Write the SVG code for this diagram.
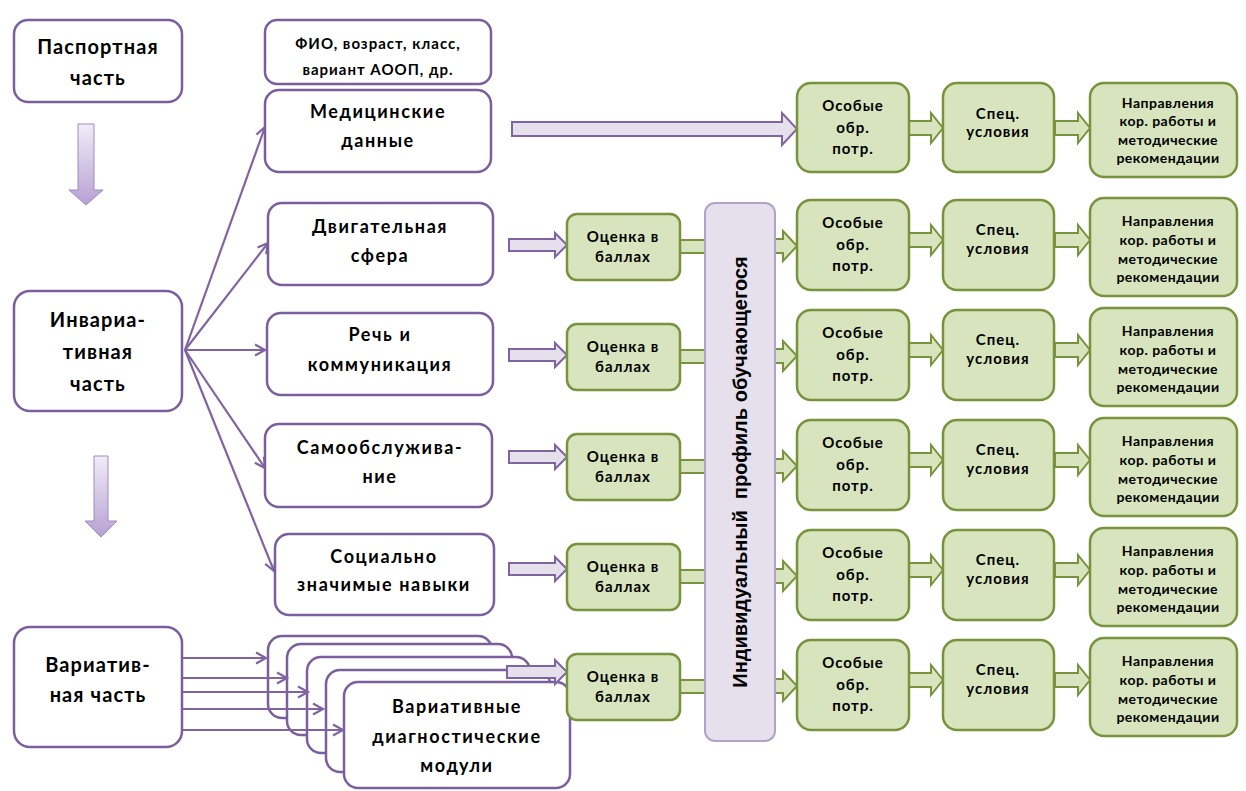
<svg xmlns="http://www.w3.org/2000/svg" width="1246" height="791" viewBox="0 0 1246 791">
<defs>
<style>
.wb{fill:#ffffff;stroke:#7a5e9e;stroke-width:2.5}
.gb{fill:#d7e4bd;stroke:#77933c;stroke-width:2.5}
.pc{fill:#e5e0ec;stroke:#b3a2c7;stroke-width:2}
.pa{fill:#e5e0ec;stroke:#8064a2;stroke-width:2}
.ga{fill:#d7e4bd;stroke:#77933c;stroke-width:2}
.da{fill:url(#dg);stroke:#a08bc0;stroke-width:1}
.ln{fill:none;stroke:#8064a2;stroke-width:2.2;marker-end:url(#ah)}
text{font-family:Lato,"Liberation Sans",sans-serif;font-weight:bold;fill:#000;text-anchor:middle}
.t20{font-size:20px;letter-spacing:1.1px}
.t18{font-size:18px;letter-spacing:1.6px}
.t15{font-size:15px;letter-spacing:1px}
.t13{font-size:14px;letter-spacing:0.5px}
.tv{font-family:"Liberation Sans",Arial,sans-serif;font-size:20px}
</style>
<linearGradient id="dg" x1="0" y1="0" x2="0" y2="1">
<stop offset="0" stop-color="#f1ecf8"/>
<stop offset="1" stop-color="#b6a1d3"/>
</linearGradient>
<marker id="ah" markerUnits="userSpaceOnUse" markerWidth="14" markerHeight="14" refX="11" refY="6" orient="auto" viewBox="0 0 14 12">
<path d="M1,0.5 L11,6 L1,11.5" fill="none" stroke="#8064a2" stroke-width="2.2"/>
</marker>
</defs>

<g id="connectors">
<path class="da" d="M78,124 H94 V190 H103 L86,205 L69,190 H78 Z"/>
<path class="da" d="M94,456 H108 V521 H117 L101,537 L85,521 H94 Z"/>
<line class="ln" x1="185" y1="350" x2="265" y2="127"/>
<line class="ln" x1="185" y1="350" x2="268" y2="243"/>
<line class="ln" x1="185" y1="350" x2="265" y2="350"/>
<line class="ln" x1="185" y1="350" x2="265" y2="468"/>
<line class="ln" x1="185" y1="350" x2="274" y2="571"/>
</g>

<g id="node-pasport"><rect class="wb" x="14" y="20" width="168" height="82" rx="14"/>
<text class="t20" x="98" y="54">Паспортная</text><text class="t20" x="98" y="85">часть</text></g>
<g id="node-invariant"><rect class="wb" x="14" y="291" width="168" height="120" rx="16"/>
<text class="t20" x="98" y="327">Инвариа-</text><text class="t20" x="98" y="359">тивная</text><text class="t20" x="98" y="391">часть</text></g>
<g id="node-variant"><rect class="wb" x="14" y="627" width="168" height="120" rx="16"/>
<text class="t20" x="98" y="672">Вариатив-</text><text class="t20" x="98" y="702">ная часть</text></g>

<g id="node-fio"><rect class="wb" x="265" y="20" width="226" height="64" rx="12"/>
<text class="t15" x="378" y="49">ФИО, возраст, класс,</text><text class="t15" x="378" y="75">вариант АООП, др.</text></g>
<g id="node-med"><rect class="wb" x="265" y="90" width="226" height="82" rx="14"/>
<text class="t18" x="378" y="118">Медицинские</text><text class="t18" x="378" y="147">данные</text></g>
<g id="node-dvig"><rect class="wb" x="268" y="203" width="225" height="82" rx="14"/>
<text class="t18" x="380" y="233">Двигательная</text><text class="t18" x="380" y="262">сфера</text></g>
<g id="node-rech"><rect class="wb" x="267" y="313" width="226" height="82" rx="14"/>
<text class="t18" x="380" y="341">Речь и</text><text class="t18" x="380" y="371">коммуникация</text></g>
<g id="node-samo"><rect class="wb" x="265" y="424" width="227" height="83" rx="14"/>
<text class="t18" x="380" y="454">Самообслужива-</text><text class="t18" x="380" y="483">ние</text></g>
<g id="node-soc"><rect class="wb" x="275" y="534" width="219" height="81" rx="14"/>
<text class="t18" x="384" y="563">Социально</text><text class="t18" x="384" y="591">значимые навыки</text></g>

<g id="node-modules">
<rect class="wb" x="268" y="636" width="224" height="82" rx="14"/>
<rect class="wb" x="287" y="644" width="225" height="91" rx="14"/>
<rect class="wb" x="307" y="657" width="223" height="96" rx="14"/>
<rect class="wb" x="326" y="670" width="224" height="102" rx="14"/>
<rect class="wb" x="344" y="682" width="226" height="106" rx="14"/>
<text class="t18" x="457" y="713">Вариативные</text><text class="t18" x="457" y="743">диагностические</text><text class="t18" x="457" y="772">модули</text>
</g>

<g id="connectors-variant">
<line class="ln" x1="183" y1="658" x2="266" y2="658"/>
<line class="ln" x1="183" y1="678" x2="287" y2="678"/>
<line class="ln" x1="183" y1="692" x2="308" y2="692"/>
<line class="ln" x1="183" y1="709" x2="323" y2="709"/>
<line class="ln" x1="183" y1="730" x2="343" y2="730"/>
</g>

<g id="connectors-blocks">
<path class="pa" d="M512,122 H782 V113 L797,129 L782,145 V136 H512 Z"/>
<path class="pa" d="M509,239 H555 V233 L567,245 L555,257 V251 H509 Z"/>
<path class="pa" d="M509,349 H555 V343 L567,355 L555,367 V361 H509 Z"/>
<path class="pa" d="M509,451 H555 V445 L567,457 L555,469 V463 H509 Z"/>
<path class="pa" d="M509,563 H555 V557 L567,569 L555,581 V575 H509 Z"/>
<path class="pa" d="M507,666 H555 V660 L567,672 L555,684 V678 H507 Z"/>
<rect class="ga" x="680" y="240" width="26" height="13"/>
<rect class="ga" x="680" y="350" width="26" height="13"/>
<rect class="ga" x="680" y="460" width="26" height="13"/>
<rect class="ga" x="680" y="570" width="26" height="13"/>
<rect class="ga" x="680" y="680" width="26" height="13"/>
<path class="ga" d="M775,239 H783 V231 L797,246 L783,261 V253 H775 Z"/>
<path class="ga" d="M775,349 H783 V341 L797,356 L783,371 V363 H775 Z"/>
<path class="ga" d="M775,459 H783 V451 L797,466 L783,481 V473 H775 Z"/>
<path class="ga" d="M775,569 H783 V561 L797,576 L783,591 V583 H775 Z"/>
<path class="ga" d="M775,679 H783 V671 L797,686 L783,701 V693 H775 Z"/>
<path class="ga" d="M909,121 H931 V113 L943,128 L931,143 V135 H909 Z"/>
<path class="ga" d="M909,233 H931 V225 L943,240 L931,255 V247 H909 Z"/>
<path class="ga" d="M909,343 H931 V335 L943,350 L931,365 V357 H909 Z"/>
<path class="ga" d="M909,453 H931 V445 L943,460 L931,475 V467 H909 Z"/>
<path class="ga" d="M909,563 H931 V555 L943,570 L931,585 V577 H909 Z"/>
<path class="ga" d="M909,673 H931 V665 L943,680 L931,695 V687 H909 Z"/>
<path class="ga" d="M1055,121 H1078 V113 L1090,128 L1078,143 V135 H1055 Z"/>
<path class="ga" d="M1055,233 H1078 V225 L1090,240 L1078,255 V247 H1055 Z"/>
<path class="ga" d="M1055,343 H1078 V335 L1090,350 L1078,365 V357 H1055 Z"/>
<path class="ga" d="M1055,453 H1078 V445 L1090,460 L1078,475 V467 H1055 Z"/>
<path class="ga" d="M1055,563 H1078 V555 L1090,570 L1078,585 V577 H1055 Z"/>
<path class="ga" d="M1055,673 H1078 V665 L1090,680 L1078,695 V687 H1055 Z"/>
</g>

<g id="node-ocenka-1"><rect class="gb" x="567" y="214" width="113" height="66" rx="10"/><text class="t15" x="623" y="242">Оценка в</text><text class="t15" x="623" y="262">баллах</text></g>
<g id="node-ocenka-2"><rect class="gb" x="567" y="324" width="113" height="66" rx="10"/><text class="t15" x="623" y="352">Оценка в</text><text class="t15" x="623" y="372">баллах</text></g>
<g id="node-ocenka-3"><rect class="gb" x="567" y="434" width="113" height="66" rx="10"/><text class="t15" x="623" y="462">Оценка в</text><text class="t15" x="623" y="482">баллах</text></g>
<g id="node-ocenka-4"><rect class="gb" x="567" y="544" width="113" height="66" rx="10"/><text class="t15" x="623" y="572">Оценка в</text><text class="t15" x="623" y="592">баллах</text></g>
<g id="node-ocenka-5"><rect class="gb" x="567" y="654" width="113" height="66" rx="10"/><text class="t15" x="623" y="682">Оценка в</text><text class="t15" x="623" y="702">баллах</text></g>

<g id="node-profile"><rect class="pc" x="705" y="203" width="70" height="538" rx="10"/>
<text class="tv" transform="translate(747,472) rotate(-90)" x="0" y="0" xml:space="preserve">Индивидуальный  профиль обучающегося</text></g>

<g id="node-osobye-0"><rect class="gb" x="797" y="83" width="112" height="89" rx="14"/><text class="t15" x="853" y="111">Особые</text><text class="t15" x="853" y="133">обр.</text><text class="t15" x="853" y="154">потр.</text></g>
<g id="node-osobye-1"><rect class="gb" x="797" y="200" width="112" height="90" rx="14"/><text class="t15" x="853" y="228">Особые</text><text class="t15" x="853" y="250">обр.</text><text class="t15" x="853" y="271">потр.</text></g>
<g id="node-osobye-2"><rect class="gb" x="797" y="310" width="112" height="90" rx="14"/><text class="t15" x="853" y="338">Особые</text><text class="t15" x="853" y="360">обр.</text><text class="t15" x="853" y="381">потр.</text></g>
<g id="node-osobye-3"><rect class="gb" x="797" y="420" width="112" height="90" rx="14"/><text class="t15" x="853" y="448">Особые</text><text class="t15" x="853" y="470">обр.</text><text class="t15" x="853" y="491">потр.</text></g>
<g id="node-osobye-4"><rect class="gb" x="797" y="530" width="112" height="90" rx="14"/><text class="t15" x="853" y="558">Особые</text><text class="t15" x="853" y="580">обр.</text><text class="t15" x="853" y="601">потр.</text></g>
<g id="node-osobye-5"><rect class="gb" x="797" y="640" width="112" height="90" rx="14"/><text class="t15" x="853" y="668">Особые</text><text class="t15" x="853" y="690">обр.</text><text class="t15" x="853" y="711">потр.</text></g>

<g id="node-spec-0"><rect class="gb" x="943" y="83" width="111" height="89" rx="14"/><text class="t15" x="998" y="119">Спец.</text><text class="t15" x="998" y="137">условия</text></g>
<g id="node-spec-1"><rect class="gb" x="943" y="200" width="111" height="90" rx="14"/><text class="t15" x="998" y="235">Спец.</text><text class="t15" x="998" y="254">условия</text></g>
<g id="node-spec-2"><rect class="gb" x="943" y="310" width="111" height="90" rx="14"/><text class="t15" x="998" y="345">Спец.</text><text class="t15" x="998" y="364">условия</text></g>
<g id="node-spec-3"><rect class="gb" x="943" y="420" width="111" height="90" rx="14"/><text class="t15" x="998" y="455">Спец.</text><text class="t15" x="998" y="474">условия</text></g>
<g id="node-spec-4"><rect class="gb" x="943" y="530" width="111" height="90" rx="14"/><text class="t15" x="998" y="565">Спец.</text><text class="t15" x="998" y="584">условия</text></g>
<g id="node-spec-5"><rect class="gb" x="943" y="640" width="111" height="90" rx="14"/><text class="t15" x="998" y="675">Спец.</text><text class="t15" x="998" y="694">условия</text></g>

<g id="node-napr-0"><rect class="gb" x="1090" y="83" width="147" height="94" rx="14"/><text class="t13" x="1168" y="108">Направления</text><text class="t13" x="1168" y="126">кор. работы и</text><text class="t13" x="1168" y="145">методические</text><text class="t13" x="1168" y="163">рекомендации</text></g>
<g id="node-napr-1"><rect class="gb" x="1090" y="198" width="147" height="98" rx="14"/><text class="t13" x="1168" y="226">Направления</text><text class="t13" x="1168" y="245">кор. работы и</text><text class="t13" x="1168" y="264">методические</text><text class="t13" x="1168" y="282">рекомендации</text></g>
<g id="node-napr-2"><rect class="gb" x="1090" y="308" width="147" height="98" rx="14"/><text class="t13" x="1168" y="336">Направления</text><text class="t13" x="1168" y="355">кор. работы и</text><text class="t13" x="1168" y="374">методические</text><text class="t13" x="1168" y="392">рекомендации</text></g>
<g id="node-napr-3"><rect class="gb" x="1090" y="418" width="147" height="98" rx="14"/><text class="t13" x="1168" y="446">Направления</text><text class="t13" x="1168" y="465">кор. работы и</text><text class="t13" x="1168" y="484">методические</text><text class="t13" x="1168" y="502">рекомендации</text></g>
<g id="node-napr-4"><rect class="gb" x="1090" y="528" width="147" height="98" rx="14"/><text class="t13" x="1168" y="556">Направления</text><text class="t13" x="1168" y="575">кор. работы и</text><text class="t13" x="1168" y="594">методические</text><text class="t13" x="1168" y="612">рекомендации</text></g>
<g id="node-napr-5"><rect class="gb" x="1090" y="638" width="147" height="98" rx="14"/><text class="t13" x="1168" y="666">Направления</text><text class="t13" x="1168" y="685">кор. работы и</text><text class="t13" x="1168" y="704">методические</text><text class="t13" x="1168" y="722">рекомендации</text></g>
</svg>
